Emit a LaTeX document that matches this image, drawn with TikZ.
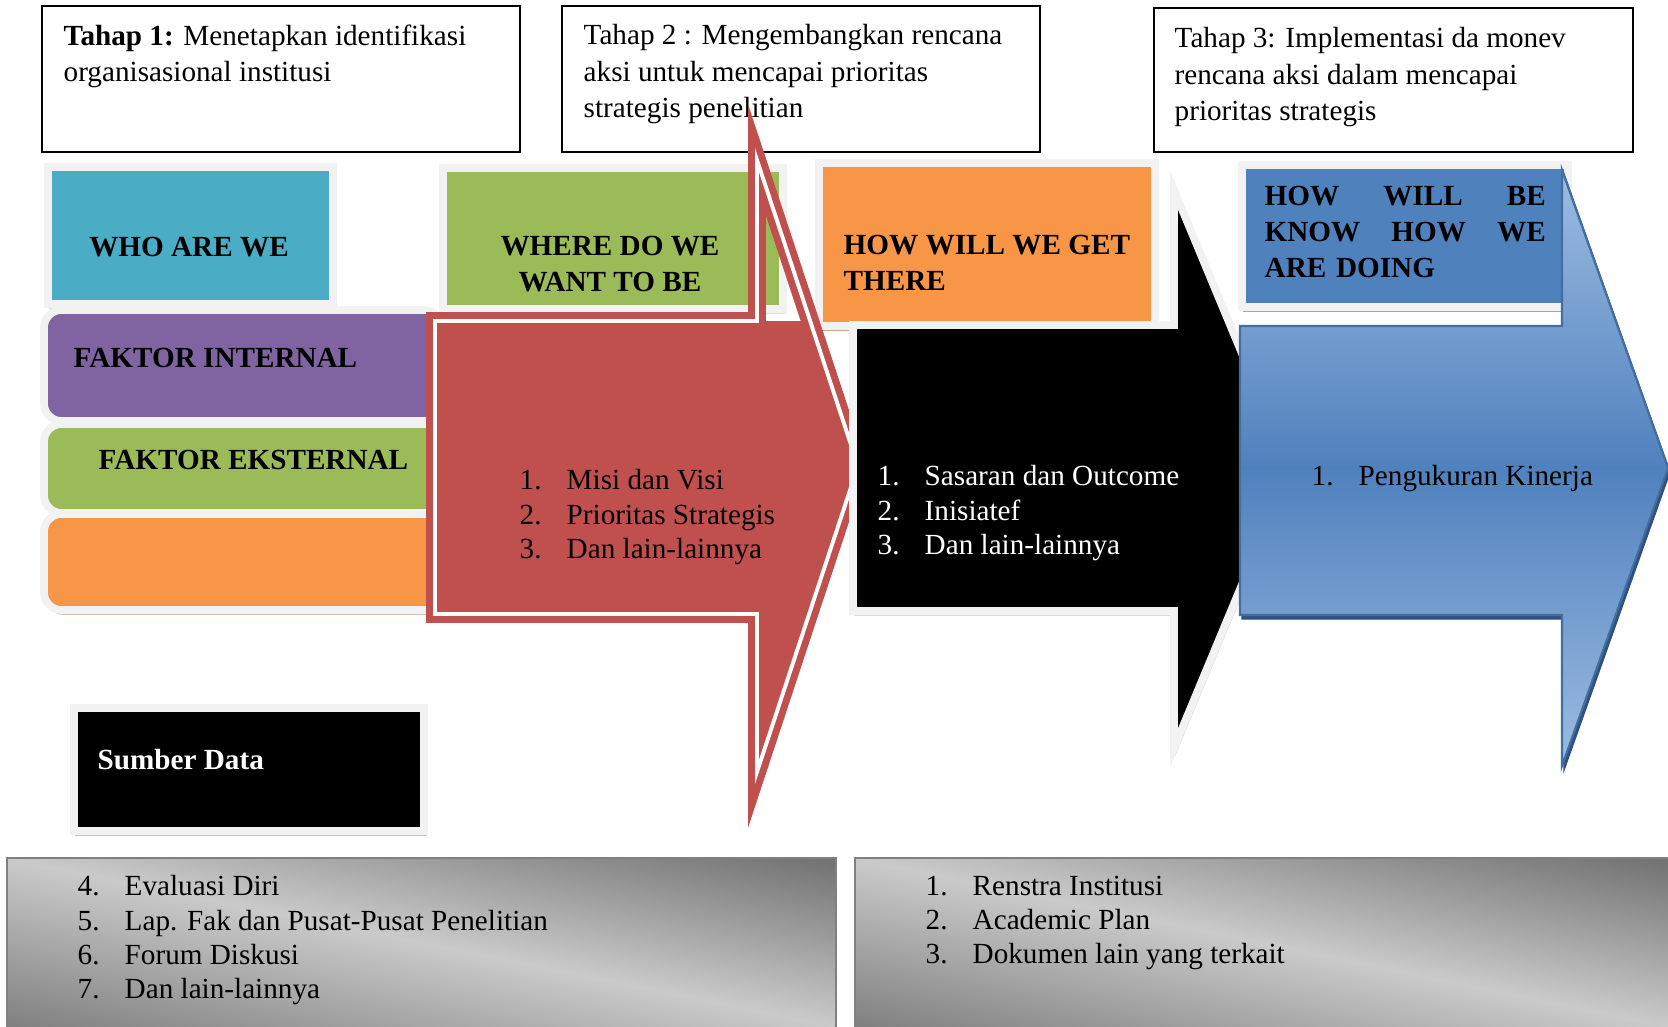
\documentclass[tikz,border=0pt]{standalone}
\usepackage{fontspec}
\setmainfont{Liberation Serif}
\usetikzlibrary{positioning}

\definecolor{framec}{HTML}{F2F2F2}
\definecolor{cyanc}{HTML}{4BACC6}
\definecolor{purplec}{HTML}{8064A2}
\definecolor{greenc}{HTML}{9BBB59}
\definecolor{orangec}{HTML}{F79646}
\definecolor{redc}{HTML}{C0504D}
\definecolor{bluec}{HTML}{4F81BD}
\definecolor{bluelight}{HTML}{9DBCE1}
\definecolor{blueshadow}{HTML}{2F5180}
\definecolor{brownc}{HTML}{C9A482}
\definecolor{grayd}{HTML}{6E6E6E}
\definecolor{grayl}{HTML}{CACACA}
\definecolor{grayb}{HTML}{7E7E7E}

\newcommand{\itm}[2]{\makebox[0.47cm][l]{#1}#2}

\begin{document}
\begin{tikzpicture}[x=0.01cm, y=-0.01cm,
    every node/.style={inner sep=0pt},
    txt/.style={font=\fontsize{8.3}{9.7}\selectfont, align=left, anchor=north west},
    tahaptxt/.style={txt, font=\fontsize{8.3}{10.3}\selectfont},
    head/.style={font=\fontsize{8.3}{10.3}\selectfont\bfseries},
    tahap/.style={draw=black, line width=0.8pt},
    tile/.style={draw=framec, line width=2.2pt},
    tileshade/.style={preaction={draw=#1, fill=#1, transform canvas={shift={(2,4)}}}},
    graybox/.style={top color=grayd, bottom color=grayb, middle color=grayl},
    grayline/.style={draw=black!50, line width=0.7pt},
    redline/.style={draw=redc, line width=2pt, double=white, double distance=1.1pt},
    bluearrow/.style={draw=bluec!85!black, line width=0.6pt, tileshade=blueshadow,
      top color=bluelight, bottom color=bluelight, middle color=bluec}]

    \useasboundingbox (0,0) rectangle (1668,1027);

    % tahap boxes
    \draw[tahap] (42,6) rectangle (520,152);
    \draw[tahap] (562,6) rectangle (1040,152);
    \draw[tahap] (1154,8) rectangle (1633,152);
    \node[tahaptxt] (tahap1) at (63,24) {\textbf{Tahap 1:} Menetapkan identifikasi\\organisasional institusi};
    \node[tahaptxt] (tahap2) at (583,24) {Tahap 2 : Mengembangkan rencana\\aksi untuk mencapai prioritas\\strategis penelitian};
    \node[tahaptxt] (tahap3) at (1174,27) {Tahap 3: Implementasi da monev\\rencana aksi dalam mencapai\\prioritas strategis};

    % sumber data
    \begin{scope}
      \clip (7,858) rectangle (836,1027);
      \shade[graybox, transform canvas={shift={(421.5,942.5)}, rotate=-11.5}] (-450,-170) rectangle (450,170);
    \end{scope}
    \begin{scope}
      \clip (855,858) rectangle (1668,1027);
      \shade[graybox, transform canvas={shift={(1261.5,942.5)}, rotate=-11.7}] (-450,-170) rectangle (450,170);
    \end{scope}
    \draw[grayline] (7,1027) -- (7,858) -- (836,858) -- (836,1027);
    \draw[grayline] (855,1027) -- (855,858) -- (1668,858);
    \draw[tile, tileshade=black!22, fill=black] (74,708) rectangle (424,831);
    \node[head, text=white, anchor=west] (sumber) at (97,760) {Sumber Data};
    \node[txt] (dataA) at (77,875) {\itm{4.}{Evaluasi Diri}\\\itm{5.}{Lap. Fak dan Pusat-Pusat Penelitian}\\\itm{6.}{Forum Diskusi}\\\itm{7.}{Dan lain-lainnya}};
    \node[txt] (dataB) at (925,875) {\itm{1.}{Renstra Institusi}\\\itm{2.}{Academic Plan}\\\itm{3.}{Dokumen lain yang terkait}};

    % left column
    \draw[tile, tileshade=black!15, fill=cyanc] (48,167) rectangle (333,304);
    \draw[tile, fill=purplec, rounded corners=5pt] (44,310) rectangle (442,421);
    \draw[tile, fill=greenc, rounded corners=5pt] (44,424) rectangle (442,513);
    \draw[tile, tileshade=brownc, fill=orangec, rounded corners=5pt] (44,514) rectangle (442,610);
    \node[head] (who) at (189,247) {WHO ARE WE};
    \node[head, anchor=west] (internal) at (73,358) {FAKTOR INTERNAL};
    \node[head, anchor=west] (eksternal) at (98,460) {FAKTOR EKSTERNAL};

    % red arrow
    \coordinate (rA) at (435,321);
    \coordinate (rB) at (757,321);
    \coordinate (rC) at (757,160);
    \coordinate (rD) at (858,466);
    \coordinate (rE) at (757,772);
    \coordinate (rF) at (757,614);
    \coordinate (rG) at (435,614);
    \coordinate (rH) at (810,321);
    \fill[redc] (rA) -- (rH) -- (rD) -- (rE) -- (rF) -- (rG) -- cycle;

    \draw[tile, tileshade=black!12, fill=greenc] (443,168) rectangle (783,309);
    \draw[tile, tileshade=brownc, fill=orangec] (819,163) rectangle (1155,326);
    \node[head, align=center] (where) at (610,264) {WHERE DO WE\\WANT TO BE};
    \node[head, align=left, anchor=north west] (how) at (843,234) {HOW WILL WE GET\\THERE};

    \draw[redline] (rA) -- (rB) -- (rC) -- (rD) -- (rE) -- (rF) -- (rG) -- cycle;
    \node[txt] (misi) at (519,469) {\itm{1.}{Misi dan Visi}\\\itm{2.}{Prioritas Strategis}\\\itm{3.}{Dan lain-lainnya}};

    % black arrow
    \coordinate (bA) at (853,325);
    \coordinate (bB) at (1174,325);
    \coordinate (bC) at (1174,190);
    \coordinate (bD) at (1290,469);
    \coordinate (bE) at (1174,748);
    \coordinate (bF) at (1174,611);
    \coordinate (bG) at (853,611);
    \draw[tile, tileshade=black!22, fill=black] (bA) -- (bB) -- (bC) -- (bD) -- (bE) -- (bF) -- (bG) -- cycle;
    \node[txt, text=white] (sasaran) at (877,465) {\itm{1.}{Sasaran dan Outcome}\\\itm{2.}{Inisiatef}\\\itm{3.}{Dan lain-lainnya}};

    % blue arrow
    \draw[tile, tileshade=black!35, fill=bluec] (1242,165) rectangle (1568,307);
    \node[head, align=left, anchor=north west, text width=2.81cm] (know) at (1264,185)
      {HOW\hfill WILL\hfill BE\\KNOW\hfill HOW\hfill WE\\ARE DOING};
    \coordinate (lA) at (1240,326);
    \coordinate (lB) at (1562,326);
    \coordinate (lC) at (1562,170);
    \coordinate (lD) at (1668,468);
    \coordinate (lE) at (1562,766);
    \coordinate (lF) at (1562,615);
    \coordinate (lG) at (1240,615);
    \draw[bluearrow] (lA) -- (lB) -- (lC) -- (lD) -- (lE) -- (lF) -- (lG) -- cycle;
    \node[txt] (kinerja) at (1311,465) {\itm{1.}{Pengukuran Kinerja}};

\end{tikzpicture}
\end{document}
